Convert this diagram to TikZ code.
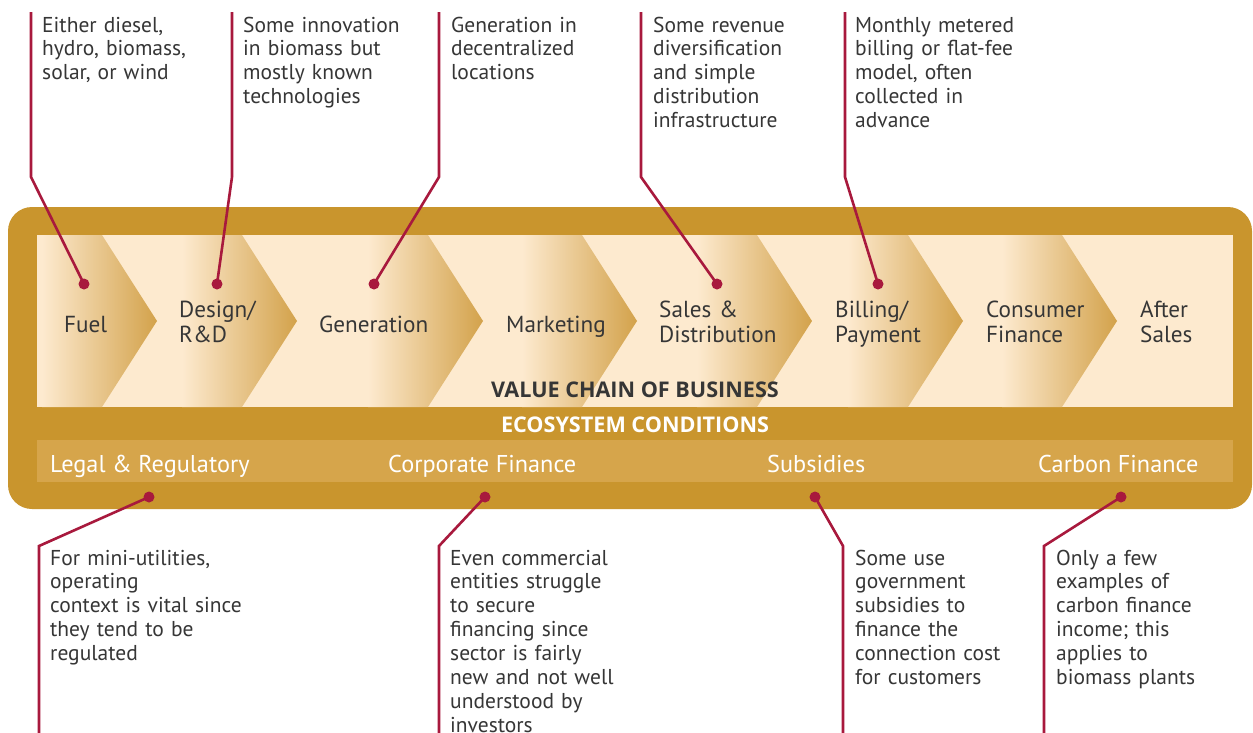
\documentclass[tikz,border=0pt]{standalone}
\usepackage{fontspec}
\setmainfont{PT Sans}
\newfontfamily\titlefont{Open Sans}
\definecolor{goldc}{HTML}{C9952D}
\definecolor{barc}{HTML}{D6A54B}
\definecolor{creamc}{HTML}{FDEACF}
\definecolor{chevd}{HTML}{D3A24B}
\definecolor{redc}{HTML}{A8193D}
\definecolor{txtc}{HTML}{363636}
\tikzset{
  note/.style={anchor=base west, inner sep=0pt, text width=230pt, align=left, text=txtc,
    font=\fontsize{21.5}{23.9}\selectfont},
  lab/.style={anchor=base west, inner sep=0pt, text width=170pt, align=left, text=txtc,
    font=\fontsize{23.2}{25}\selectfont},
  barlab/.style={anchor=base west, inner sep=0pt, text=white, font=\fontsize{24.3}{26}\selectfont},
  title/.style={anchor=base, inner sep=0pt, font=\titlefont\bfseries\fontsize{21.6}{24}\selectfont},
  dot/.style={circle, fill=redc, inner sep=0pt, minimum size=11pt},
  callout/.style={draw=redc, line width=2.6pt, line join=miter},
}
\begin{document}
\begin{tikzpicture}[x=1pt,y=-1pt]
\useasboundingbox (0,0) rectangle (1253,732);
\fill[white] (0,0) rectangle (1253,732);
\begin{scope}
\clip (0,0) rectangle (1253,732);
% frame
\fill[goldc, rounded corners=24pt] (8,207) rectangle (1252,509);
\fill[creamc] (37,235) rectangle (1233,407);
% chevrons
\foreach \p/\a in {37/102, 102/242, 242/428, 428/582, 582/757, 757/908, 908/1062}{
  \pgfmathsetmacro{\t}{\a+55}
  \pgfmathsetmacro{\pt}{\p+55}
  \pgfmathsetmacro{\g}{\t-115}
  \begin{scope}
    \ifnum\p=37
      \clip (\p,235) -- (\a,235) -- (\t,321) -- (\a,407) -- (\p,407) -- cycle;
    \else
      \clip (\p,235) -- (\a,235) -- (\t,321) -- (\a,407) -- (\p,407) -- (\pt,321) -- cycle;
    \fi
    \shade[left color=creamc, right color=chevd] (\g,235) rectangle (\t,407);
  \end{scope}
}
\fill[barc] (37,440) rectangle (1233,482);
% chevron labels
\node[lab] (fuel) at (64,332) {Fuel};
\node[lab] (design) at (179,317) {Design/\\R\&D};
\node[lab] (gen) at (319,332) {Generation};
\node[lab] (mkt) at (506,332) {Marketing};
\node[lab] (sales) at (659,317) {Sales \&\\Distribution};
\node[lab] (bill) at (835,317) {Billing/\\Payment};
\node[lab] (cons) at (986,317) {Consumer\\Finance};
\node[lab] (after) at (1140,317) {After\\Sales};
\node[title, text=txtc] (vc) at (635,397) {VALUE CHAIN OF BUSINESS};
\node[title, text=white] (eco) at (635,432) {ECOSYSTEM CONDITIONS};
% bar labels
\node[barlab] (legal) at (50,472) {Legal \& Regulatory};
\node[barlab] (corp) at (388,472) {Corporate Finance};
\node[barlab] (subs) at (767,472) {Subsidies};
\node[barlab] (carb) at (1038,472) {Carbon Finance};
% top notes
\node[note] (n1) at (42,32) {Either diesel,\\hydro, biomass,\\solar, or wind};
\node[note] (n2) at (243,32) {Some innovation\\in biomass but\\mostly known\\technologies};
\node[note] (n3) at (451,32) {Generation in\\decentralized\\locations};
\node[note] (n4) at (653,32) {Some revenue\\diversification\\and simple\\distribution\\infrastructure};
\node[note] (n5) at (855,32) {Monthly metered\\billing or flat-fee\\model, often\\collected in\\advance};
% bottom notes
\node[note] (m1) at (50,565) {For mini-utilities,\\operating\\context is vital since\\they tend to be\\regulated};
\node[note] (m2) at (450,565) {Even commercial\\entities struggle\\to secure\\financing since\\sector is fairly\\new and not well\\understood by\\investors};
\node[note] (m3) at (855,565) {Some use\\government\\subsidies to\\finance the\\connection cost\\for customers};
\node[note] (m4) at (1056,565) {Only a few\\examples of\\carbon finance\\income; this\\applies to\\biomass plants};
% callouts top
\node[dot] (d1) at (84,284) {};
\node[dot] (d2) at (217,284) {};
\node[dot] (d3) at (374,284) {};
\node[dot] (d4) at (717,284) {};
\node[dot] (d5) at (878,284) {};
\coordinate (k1) at (31,177); \coordinate (e1) at (31,12);
\coordinate (k2) at (232,177); \coordinate (e2) at (232,12);
\coordinate (k3) at (439,177); \coordinate (e3) at (439,12);
\coordinate (k4) at (641,177); \coordinate (e4) at (641,12);
\coordinate (k5) at (845,177); \coordinate (e5) at (845,12);
\foreach \i in {1,...,5}{\draw[callout] (d\i.center) -- (k\i) -- (e\i);}
% callouts bottom
\node[dot] (d6) at (149,497) {};
\node[dot] (d7) at (485,497) {};
\node[dot] (d8) at (815,497) {};
\node[dot] (d9) at (1121,497) {};
\coordinate (k6) at (39,546); \coordinate (e6) at (39,740);
\coordinate (k7) at (439,546); \coordinate (e7) at (439,740);
\coordinate (k8) at (843,546); \coordinate (e8) at (843,740);
\coordinate (k9) at (1044,546); \coordinate (e9) at (1044,740);
\foreach \i in {6,...,9}{\draw[callout] (d\i.center) -- (k\i) -- (e\i);}
\end{scope}
\end{tikzpicture}
\end{document}
